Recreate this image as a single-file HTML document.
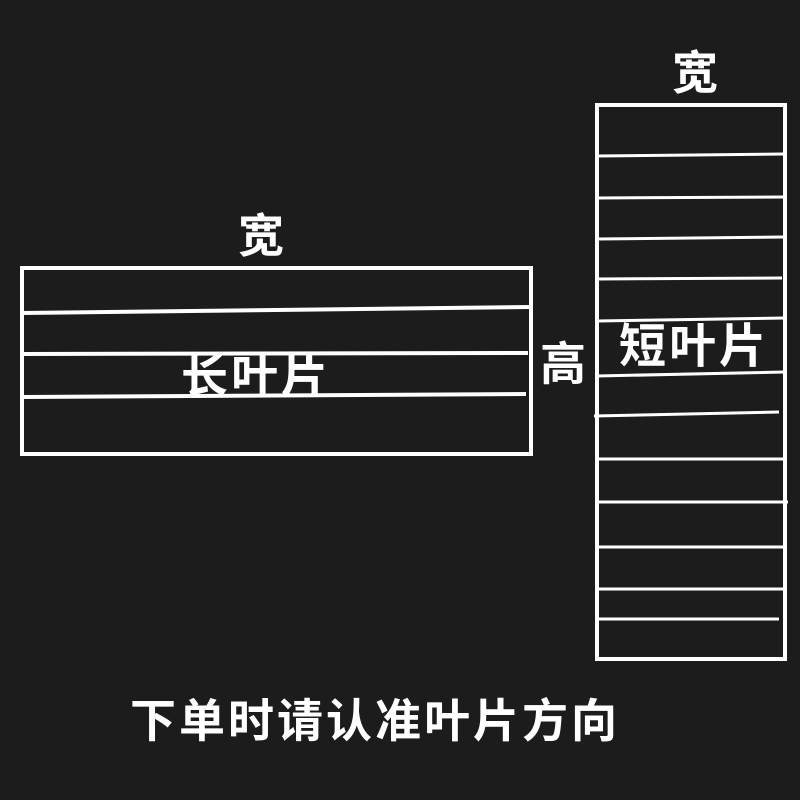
<!DOCTYPE html>
<html><head><meta charset="utf-8"><style>
html,body{margin:0;padding:0;background:#1c1c1c;}
svg{display:block}
text{font-family:"Liberation Sans","Noto Sans CJK SC",sans-serif;font-weight:bold;fill:#fff;}
</style></head><body>
<svg width="800" height="800" viewBox="0 0 800 800">
<rect width="800" height="800" fill="#1c1c1c"/>
<g stroke="#fff" fill="none" stroke-width="4">
<rect x="22" y="268" width="509" height="186"/>
<line x1="22" y1="313" x2="531" y2="307"/>
<line x1="22" y1="354" x2="528" y2="353"/>
<line x1="22" y1="397" x2="526" y2="394"/>
<rect x="597" y="105" width="188" height="554"/>
</g>
<g stroke="#fff" stroke-width="3">
<line x1="597" y1="156" x2="784" y2="154"/>
<line x1="597" y1="198" x2="784" y2="197"/>
<line x1="597" y1="239" x2="784" y2="237"/>
<line x1="597" y1="279" x2="782" y2="278"/>
<line x1="597" y1="321" x2="784" y2="318"/>
<line x1="597" y1="376" x2="784" y2="372"/>
<line x1="594" y1="416" x2="779" y2="412"/>
<line x1="597" y1="459" x2="784" y2="459"/>
<line x1="597" y1="502" x2="788" y2="502"/>
<line x1="597" y1="547" x2="784" y2="547"/>
<line x1="597" y1="589" x2="784" y2="589"/>
<line x1="597" y1="619" x2="779" y2="619"/>
</g>
<g font-size="46" text-anchor="middle" dominant-baseline="central">
<text x="695" y="73">宽</text>
<text x="261" y="236">宽</text>
<text x="563" y="364">高</text>
<text x="256" y="376" font-size="47" letter-spacing="3">长叶片</text>
<text x="694" y="346" font-size="47" letter-spacing="3">短叶片</text>
<text x="375" y="721" font-size="46" letter-spacing="3">下单时请认准叶片方向</text>
</g>
</svg>
</body></html>
